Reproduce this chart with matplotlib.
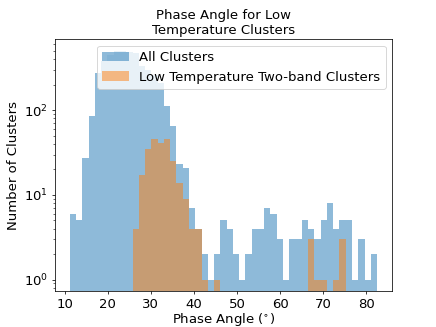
import numpy as np
import matplotlib
matplotlib.use("Agg")
import matplotlib.pyplot as plt

# Histogram bin range (phase angle, degrees) and number of bins
bin_lo = 11.2
bin_hi = 82.5
n_bins = 49

# Counts per bin
all_counts = [6, 5, 27, 86, 272, 380, 450, 500, 505, 490,
              480, 330, 300, 260, 210, 113, 66, 23, 21, 7,
              4, 2, 1, 2, 5, 4, 2, 1, 2, 4,
              4, 7, 6, 3, 1, 3, 3, 5, 4, 3,
              5, 8, 4, 5, 5, 1, 3, 1, 2]
low_counts = [0, 0, 0, 0, 0, 0, 0, 0, 0, 0,
              4, 17, 35, 46, 41, 46, 25, 14, 9, 4,
              4, 1, 0, 1, 0, 0, 0, 0, 0, 0,
              0, 0, 0, 0, 0, 0, 0, 0, 3, 1,
              1, 0, 1, 3, 0, 0, 0, 0, 0]

labels = ["All Clusters", "Low Temperature Two-band Clusters"]
title = "Phase Angle for Low\nTemperature Clusters"

edges = np.linspace(bin_lo, bin_hi, n_bins + 1)
centers = 0.5 * (edges[:-1] + edges[1:])

plt.rcParams["font.size"] = 14
fig = plt.figure(figsize=(436 / 68, 327 / 68), dpi=68)
ax = fig.add_subplot(111)
ax.hist(centers, bins=edges, weights=all_counts, log=True, alpha=0.5, label=labels[0])
ax.hist(centers, bins=edges, weights=low_counts, log=True, alpha=0.5, label=labels[1])
ax.set_title(title, fontsize=14)
ax.set_xlabel(r"Phase Angle ($^{\circ}$)", fontsize=14, labelpad=0)
ax.set_ylabel("Number of Clusters", fontsize=14)
ax.tick_params(labelsize=14)
ax.legend(loc="upper right", fontsize=14)
fig.savefig("out.png", dpi=68)
